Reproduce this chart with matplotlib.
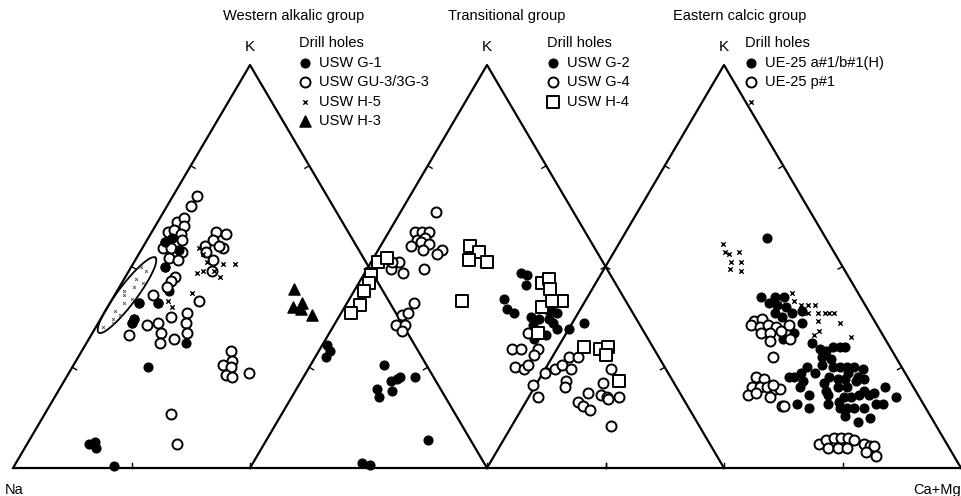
import numpy as np
import matplotlib.pyplot as plt

plt.rcParams['font.family'] = ['Liberation Sans', 'DejaVu Sans']

# compositions read off the ternaries as (K %, Ca+Mg %); Na = 100 - K - Ca+Mg
# --- Western alkalic group ---
usw_g1 = [(50, 7), (57, 5), (56, 4), (54, 8), (41, 6), (41, 10), (37, 7), (36, 7),
          (31, 21), (44, 11), (25, 16), (6.5, 14), (6, 13), (5, 15), (0.5, 21)]
usw_gu3 = [(67.5, 5), (65, 5), (58.5, 3.5), (61, 4), (62, 5), (60, 6), (59, 4.5),
           (58, 6.5), (56.5, 7.5), (54.5, 4.5), (54.5, 6), (53.5, 9), (52, 7), (51.5, 9),
           (58.5, 13.5), (58, 16), (56.5, 14), (54.5, 17), (55, 13), (51.5, 16.5),
           (49, 17.5), (53.5, 14), (55, 16), (47.5, 10.5), (46.5, 10), (45, 10), (43, 8),
           (41.5, 18.5), (38.5, 17.5), (36, 18.5), (33.5, 20), (37.5, 14.5), (36, 12.5),
           (35.5, 10.5), (33.5, 14.5), (31, 15.5), (33, 8), (32, 18),
           (29, 31.5), (26.5, 33), (25.5, 31.5), (25, 33.5), (23, 33.5), (22.5, 35),
           (23.5, 38), (13.5, 26.5), (6, 31.5)]
usw_h5 = [(54.5, 12), (53, 13.5), (51, 15.5), (50.5, 19), (47.5, 20), (49, 15.5),
          (48.5, 14.5), (50.5, 21.5), (43.5, 16), (40, 13.5), (41.5, 12), (49, 18)]
h5_field = [(35, 1.5), (37, 2.5), (39, 2), (41, 3), (43, 2), (45, 3), (47, 2.5),
            (49, 3.5), (38, 3.5), (42, 4), (46, 4.5), (44, 1.5), (36, 3), (50, 2)]
usw_h3 = [(44.5, 37), (41, 40.5), (40, 39), (38, 44), (39.5, 41)]

# --- Transitional group ---
usw_g2 = [(30.5, 1), (29, 2.3), (27.5, 2.3), (25.5, 15.5), (21.5, 19), (22.5, 20.5),
          (22, 20), (22.5, 23.5), (19.5, 17), (17.5, 18.5), (19, 20.5), (7, 34),
          (1.2, 23), (0.7, 25),
          (48.5, 33), (48, 34.5), (45.5, 35.5), (42, 32.5), (39.5, 34.5), (38.5, 36.5),
          (37.5, 40.5), (37, 42.5), (35.5, 42), (40, 43.5), (41, 43.5), (39, 43.5),
          (36, 46), (34.5, 47.5), (34.5, 50), (36, 52.5), (33, 46), (32, 44), (34, 43.5),
          (37, 44.5), (38.5, 45.5)]
usw_g4 = [(63.5, 7.5), (58.5, 5.5), (58.5, 7), (58.5, 8.5), (56.5, 7), (57, 8.5),
          (55, 6.5), (56, 8), (55.5, 10), (54, 9.5), (54, 13.5), (53, 13), (49.5, 12),
          (49.5, 5), (48.5, 8), (51, 6), (51, 4.5), (41, 14), (38, 13), (38.5, 14),
          (35.5, 13), (35.5, 15), (34, 15),
          (33.5, 42), (29.5, 40.5), (29.5, 42.5), (29.5, 46), (28, 46), (25, 43.5),
          (24.5, 45.5), (25.5, 46), (23.5, 50.5), (24.5, 52), (25.5, 53), (27.5, 53.5),
          (24.5, 55.5), (27.5, 55.5), (20.5, 49.5), (17.5, 52), (21.5, 56), (20, 56.5),
          (16.5, 61), (15.5, 62.5), (14.5, 64.5), (18.5, 62), (18, 65), (17.5, 66.5),
          (17, 67), (21, 64), (24.5, 64), (17.5, 69), (10.5, 71)]
usw_h4 = [(51, 1.5), (52, 3), (48, 1.5), (46, 2), (44, 2), (40.5, 3), (38.5, 2),
          (55, 19), (53.5, 21.5), (51.5, 20.5), (51, 24.5), (41.5, 24),
          (46, 38.5), (47, 39.5), (44.5, 41), (40, 41.5), (41.5, 45), (41.5, 43),
          (33.5, 44), (30, 55.5), (29.5, 59), (30, 60.5), (28, 61), (21.5, 67)]

# --- Eastern calcic group ---
ue25_ab = [(57, 30.5), (42.5, 36.5), (42.5, 39.5), (42.5, 41.5), (41, 39), (40.5, 41),
           (40, 43), (38.5, 45), (38.5, 41.5), (37.5, 43.5), (36, 48.5), (33.5, 48),
           (32, 46.5), (39, 47), (31, 53), (29.5, 55.5), (29, 57), (30, 58), (30, 59.5),
           (30, 60.5), (27.5, 57), (27, 59), (25.5, 58), (25, 60.5), (25, 62), (25, 63.5),
           (25, 65), (24.5, 67), (23.5, 64.5), (22.5, 67), (22, 64.5), (21.5, 67),
           (22, 68.5), (22.5, 61), (21, 60.5), (23.5, 57.5), (25, 55), (23.5, 54.5),
           (22.5, 53.5), (22.5, 52.5), (21.5, 56), (20, 56), (18, 59), (16, 57.5),
           (15, 60.5), (16.5, 66), (17.5, 66.5), (17.5, 68), (18, 69.5), (18, 71.5),
           (18.5, 72.5), (20, 74), (17.5, 77.5), (16, 75.5), (16, 74), (15, 67),
           (15, 68.5), (15, 70), (15, 72), (12.5, 74.5), (11.5, 72.5), (22, 63),
           (20, 64), (19, 62), (18, 63), (16, 64), (13, 69), (20, 66), (19, 70)]
ue25_p = [(36.5, 38), (37, 39.5), (35.5, 38), (35, 40), (35.5, 41.5), (35, 43.5),
          (34, 45), (35.5, 46), (33.5, 41), (33.5, 43), (31.5, 44), (32, 48),
          (27.5, 46.5), (22.5, 45.5), (22, 47.5), (20, 46), (20, 47.5), (20, 49),
          (19.5, 51), (19.5, 52), (18, 46), (18.5, 47.5), (17.5, 51), (15.5, 54.5),
          (15.5, 55), (20.5, 50),
          (6, 67), (7, 68), (7.5, 69.5), (7.5, 71), (7.5, 72.5), (7, 74), (6, 76.5),
          (5.5, 78), (5.5, 79), (5, 69.5), (5, 71.5), (5, 73.5), (4, 78), (3, 80.5)]
ue25_x = [(55.5, 22), (53.5, 23.5), (53, 24.5), (53.5, 26.5), (51, 26), (51, 28),
          (49.5, 26.5), (49, 29), (43.5, 42.5), (41.5, 44), (40.5, 46), (40.5, 47.5),
          (40.5, 49), (38.5, 48.5), (38.5, 50.5), (38.5, 52), (38.5, 53), (38.5, 54),
          (36.5, 51.5), (36, 56.5), (33, 52.5), (32.5, 60.5), (34, 53)]

offsets = [0, 50, 100]   # left corner of each triangle on the shared Na-Ca+Mg base
SX, SY = 4.74, 4.03       # screen px per unit in x and y


def tern(pts, off):
    a = np.array(pts, dtype=float)
    k, ca = a[:, 0], a[:, 1]
    return off + ca + k / 2, k


fig = plt.figure(figsize=(9.61, 4.96), dpi=100)
ax = fig.add_axes([0, 0, 1, 1])
ax.set_xlim(-13 / SX, (961 - 13) / SX)
ax.set_ylim(-28 / SY, 468 / SY)
ax.axis('off')

# triangle outlines + ticks at 25 % steps
lw = 1.6
ax.plot([0, 200], [0, 0], color='k', lw=lw, solid_capstyle='butt')
for off in offsets:
    A, B, C = np.array([off, 0.]), np.array([off + 100, 0.]), np.array([off + 50, 100.])
    ax.plot([A[0], C[0], B[0]], [A[1], C[1], B[1]], color='k', lw=lw)
    cen = (A + B + C) / 3
    for P, Q in [(A, B), (B, C), (C, A)]:
        d = (Q - P) * [SX, SY]
        n = np.array([-d[1], d[0]]) / np.hypot(*d)
        for f in (0.25, 0.5, 0.75):
            p = P + f * (Q - P)
            if np.dot((cen - p) * [SX, SY], n) < 0:
                n = -n
            e = p + n * 5 / np.array([SX, SY])
            ax.plot([p[0], e[0]], [p[1], e[1]], color='k', lw=1.0)
    ax.text(off + 50, (468 - 47) / SY, 'K', ha='center', va='center', fontsize=11)

ax.text(-8 / SX, -22 / SY, 'Na', ha='left', va='center', fontsize=10.5)
ax.text(200, -22 / SY, 'Ca+Mg', ha='right', va='center', fontsize=10.5)

# outlined field of USW H-5 analyses along the Na-K side
ecx, ecy = tern([(42.9, 2.6)], 0)
t = np.linspace(0, 2 * np.pi, 200)
ang = np.deg2rad(53)
ex = 47 * np.cos(t) * np.cos(ang) - 9.5 * np.sin(t) * np.sin(ang)
ey = 47 * np.cos(t) * np.sin(ang) + 9.5 * np.sin(t) * np.cos(ang)
ax.plot(ecx[0] + ex / SX, ecy[0] + ey / SY, color='k', lw=1.3)
x, y = tern(h5_field, 0)
ax.scatter(x, y, marker='x', s=4, lw=0.6, color='0.3', zorder=3)

fill = dict(marker='o', s=42, facecolor='k', edgecolor='k', lw=0.8, zorder=3)
opn = dict(marker='o', s=52, facecolor='white', edgecolor='k', lw=1.4, zorder=3)
sq = dict(marker='s', s=68, facecolor='white', edgecolor='k', lw=1.4, zorder=3)
crs = dict(marker='x', s=10, color='k', lw=1.0, zorder=4)
tri = dict(marker='^', s=64, facecolor='k', edgecolor='k', zorder=3)

h = []
h.append(ax.scatter(*tern(usw_g1, 0), **fill))
h.append(ax.scatter(*tern(usw_gu3, 0), **opn))
h.append(ax.scatter(*tern(usw_h5, 0), **crs))
h.append(ax.scatter(*tern(usw_h3, 0), **tri))
ax.scatter(*tern(usw_g1[:8], 0), **fill)

h2 = []
h2.append(ax.scatter(*tern(usw_g2, 50), **fill))
h2.append(ax.scatter(*tern(usw_g4, 50), **opn))
h2.append(ax.scatter(*tern(usw_h4, 50), **sq))

h3 = []
h3.append(ax.scatter(*tern(ue25_ab, 100), **fill))
h3.append(ax.scatter(*tern(ue25_p, 100), **opn))
h3.append(ax.scatter(*tern(ue25_x, 100), **crs))

groups = [('Western alkalic group', 223, 299, h,
           ['USW G-1', 'USW GU-3/3G-3', 'USW H-5', 'USW H-3']),
          ('Transitional group', 448, 547, h2, ['USW G-2', 'USW G-4', 'USW H-4']),
          ('Eastern calcic group', 673, 745, h3, ['UE-25 a#1/b#1(H)', 'UE-25 p#1', ''])]
for title, tx, lx, hs, labels in groups:
    fig.text(tx / 961, 1 - 16 / 496, title, ha='left', va='center', fontsize=10.5)
    leg = fig.legend(hs, labels, title='Drill holes', loc='upper left',
                     bbox_to_anchor=(lx / 961, 1 - 36 / 496), frameon=False,
                     fontsize=10.5, title_fontsize=10.5, borderpad=0, borderaxespad=0,
                     handlelength=0.8, handletextpad=0.6, labelspacing=0.38,
                     scatterpoints=1, alignment='left')

fig.savefig('out.png', dpi=100)
